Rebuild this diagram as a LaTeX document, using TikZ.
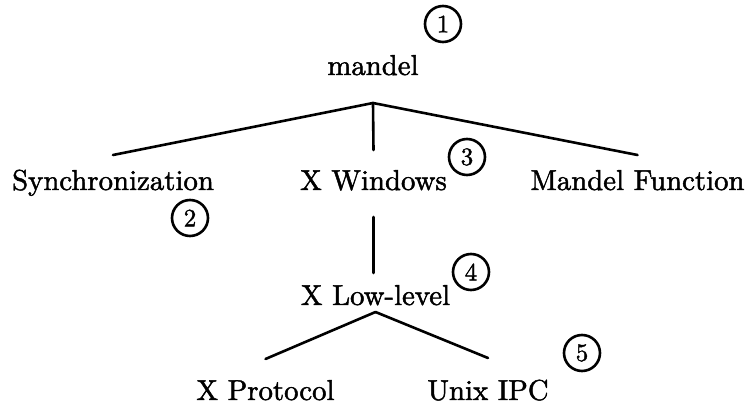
\documentclass[tikz,border=0pt]{standalone}
\usepackage{fontspec}
\newfontfamily\heavyrm{lmroman10-regular}[Extension=.otf, FakeBold=1.6]
\usetikzlibrary{calc}
\tikzset{
  label text/.style={inner sep=0pt, anchor=base, font=\heavyrm\fontsize{14.4}{17}\selectfont},
  num/.style={circle, draw, line width=1.3pt, minimum size=18pt, inner sep=0pt,
              font=\heavyrm\fontsize{12.5}{12.5}\selectfont},
  branch/.style={line width=1.3pt, line cap=round},
}
\begin{document}
\begin{tikzpicture}[x=0.5pt, y=-0.5pt]
  \useasboundingbox (0,0) rectangle (746,405);

  % level 0
  \node[label text] (mandel) at (373,75) {mandel};
  % level 1
  \node[label text] (sync) at (113,190) {Synchronization};
  \node[label text] (xwin) at (373.5,190) {X Windows};
  \node[label text] (mfun) at (637.5,190) {Mandel Function};
  % level 2
  \node[label text] (xlow) at (375.5,305) {X Low-level};
  % level 3
  \node[label text] (xprot) at (265.5,400) {X Protocol};
  \node[label text] (unix) at (488,400) {Unix IPC};

  % circled step numbers
  \node[num] (n1) at (443,24) {1};
  \node[num] (n2) at (190,218) {2};
  \node[num] (n3) at (467,157) {3};
  \node[num] (n4) at (471,272) {4};
  \node[num] (n5) at (582,353) {5};

  % fork points
  \coordinate (rootfork) at ($(mandel.base)+(0,28)$);
  \coordinate (lowfork) at ($(xlow.base)+(0,7)$);

  % branches
  \draw[branch] (rootfork) -- ($(sync.base)+(0,-35)$);
  \draw[branch] (rootfork) -- ($(xwin.base)+(0,-40)$);
  \draw[branch] (rootfork) -- ($(mfun.base)+(0,-35)$);
  \draw[branch] ($(xwin.base)+(0,27)$) -- ($(xwin.base)+(0,83)$);
  \draw[branch] (lowfork) -- ($(xprot.base)+(0,-41)$);
  \draw[branch] (lowfork) -- ($(unix.base)+(0,-42)$);
\end{tikzpicture}
\end{document}
